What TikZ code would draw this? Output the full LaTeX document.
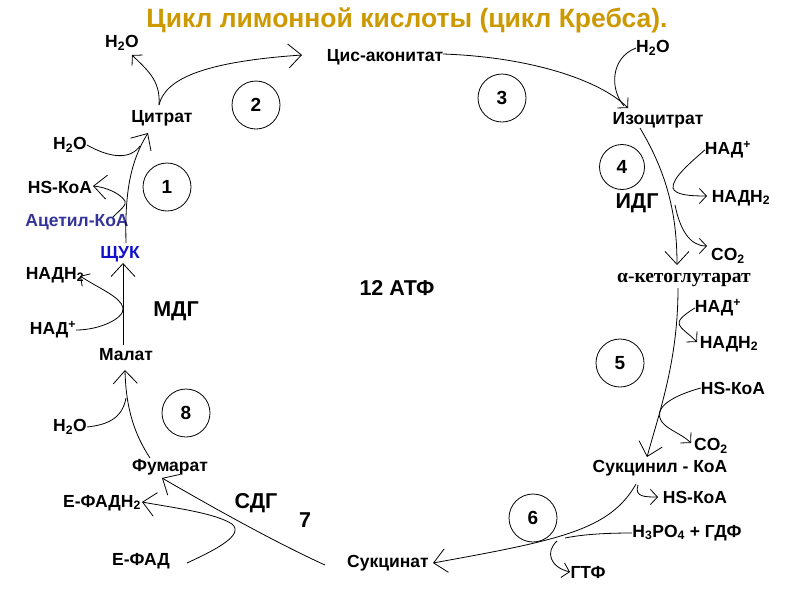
\documentclass[tikz,border=0pt]{standalone}
\usepackage{fontspec}
\setmainfont{Liberation Sans}
\newfontfamily\serifbold{Liberation Serif}
\usetikzlibrary{arrows.meta}
\definecolor{titlegold}{RGB}{204,153,0}
\definecolor{acetyl}{RGB}{51,51,153}
\definecolor{oaa}{RGB}{17,17,204}
\begin{document}
\begin{tikzpicture}[x=1pt,y=-1pt,
  lbl/.style={font=\bfseries\fontsize{17.5}{20}\selectfont, inner sep=0pt},
  big/.style={font=\bfseries\fontsize{21.5}{24}\selectfont, inner sep=0pt},
  num/.style={circle, draw, line width=0.8pt, minimum size=48pt, inner sep=0pt, font=\bfseries\fontsize{19}{22}\selectfont},
  conn/.style={line width=0.8pt},
  bigtip/.style={conn, -{Straight Barb[length=13pt,width=24pt]}},
  smalltip/.style={conn, -{Straight Barb[length=7pt,width=15pt]}},
]
\useasboundingbox (0,0) rectangle (800,600);

% title
\node[font=\bfseries\fontsize{26.5}{30}\selectfont, text=titlegold, inner sep=0pt] (title) at (407,20) {Цикл лимонной кислоты (цикл Кребса).};

% labels
\node[lbl] (h2o1) at (122,43) {H\textsubscript{2}O};
\node[lbl] (cisacon) at (385,57) {Цис-аконитат};
\node[lbl] (h2o3) at (653,48) {H\textsubscript{2}O};
\node[lbl] (citrate) at (162,118) {Цитрат};
\node[lbl] (isocit) at (658,120) {Изоцитрат};
\node[lbl] (h2o2) at (70,145) {H\textsubscript{2}O};
\node[lbl] (nad4) at (728,150) {НАД\textsuperscript{+}};
\node[lbl] (hskoa1) at (60,187) {HS-КоА};
\node[lbl] (nadh4) at (741,198) {НАДН\textsubscript{2}};
\node[big] (idg) at (637,203) {ИДГ};
\node[lbl, text=acetyl] (acetyl) at (77,222) {Ацетил-КоА};
\node[lbl, text=oaa] (oaa) at (120,254) {ЩУК};
\node[lbl] (co2a) at (728,256) {CO\textsubscript{2}};
\node[inner sep=0pt, font=\serifbold\bfseries\fontsize{19.5}{22}\selectfont] (akg) at (684,280) {α-кетоглутарат};
\node[lbl] (nadh8) at (55,275) {НАДН\textsubscript{2}};
\node[big] (atp) at (397,288) {12 АТФ};
\node[lbl] (nad5) at (718,308) {НАД\textsuperscript{+}};
\node[big] (mdg) at (176,311) {МДГ};
\node[lbl] (nad8) at (53,330) {НАД\textsuperscript{+}};
\node[lbl] (nadh5) at (729,344) {НАДН\textsubscript{2}};
\node[lbl] (malate) at (126,355) {Малат};
\node[lbl] (hskoa5) at (733,388) {HS-КоА};
\node[lbl] (h2o8) at (70,427) {H\textsubscript{2}O};
\node[lbl] (co2b) at (711,446) {CO\textsubscript{2}};
\node[lbl] (fumarate) at (170,467) {Фумарат};
\node[lbl] (succoa) at (660,468) {Сукцинил - КоА};
\node[lbl] (hskoa6) at (695,497) {HS-КоА};
\node[lbl] (fadh) at (102,503) {Е-ФАДН\textsubscript{2}};
\node[big] (sdg) at (256,503) {СДГ};
\node[big] (seven) at (305,520) {7};
\node[lbl] (h3po4) at (687,533) {H\textsubscript{3}PO\textsubscript{4} + ГДФ};
\node[lbl] (fad) at (141,561) {Е-ФАД};
\node[lbl] (succ) at (388,563) {Сукцинат};
\node[lbl] (gtp) at (588,572) {ГТФ};

% numbered circles
\node[num] (c1) at (167,187) {1};
\node[num] (c2) at (256,105) {2};
\node[num] (c3) at (502,98) {3};
\node[num, minimum size=45pt] (c4) at (622,167) {4};
\node[num] (c5) at (620,363) {5};
\node[num] (c6) at (533,518) {6};
\node[num] (c8) at (186,413) {8};

% key points
\coordinate (oaaTop) at (126,243);
\coordinate (citTip) at (148,133);
\coordinate (citTop) at (159,105);
\coordinate (h2o1Tip) at (132,55);
\coordinate (cisTip) at (302,55);
\coordinate (cisEnd) at (443,54);
\coordinate (isoTip) at (628,108);
\coordinate (isoBot) at (640,128);
\coordinate (akgTip) at (677,265);
\coordinate (akgBot) at (678,288);
\coordinate (scoaTip) at (647,457);
\coordinate (scoaBot) at (636,484);
\coordinate (succTip) at (433,563);
\coordinate (succLeft) at (325,565);
\coordinate (fumTip) at (162,478);
\coordinate (fumTop) at (150,458);
\coordinate (malTip) at (125,370);
\coordinate (malTop) at (123,345);
\coordinate (oaaTip) at (123,263);
\coordinate (nadh4Tip) at (707,196);
\coordinate (co2aTip) at (707,246);
\coordinate (nadh5Tip) at (697,342);
\coordinate (co2bTip) at (691,443);
\coordinate (hskoa6Tip) at (658,497);
\coordinate (gtpTip) at (570,572);
\coordinate (nadh8Tip) at (80,276);
\coordinate (fadhTip) at (142,502);
\coordinate (hskoa1Tip) at (93,186);

% main cycle
\draw[bigtip] (oaaTop) .. controls (125,200) and (128,165) .. (citTip);
\draw[bigtip] (citTop) .. controls (165,80) and (200,62) .. (cisTip);
\draw[smalltip] (cisEnd) .. controls (530,57) and (600,80) .. (isoTip);
\draw[bigtip] (isoBot) .. controls (665,170) and (677,210) .. (akgTip);
\draw[bigtip] (akgBot) .. controls (678,360) and (660,410) .. (scoaTip);
\draw[bigtip] (scoaBot) .. controls (610,530) and (560,540) .. (succTip);
\draw[bigtip] (succLeft) .. controls (270,540) and (200,500) .. (fumTip);
\draw[bigtip] (fumTop) .. controls (135,435) and (126,410) .. (malTip);
\draw[bigtip] (malTop) -- (oaaTip);

% side reactions
\draw[conn] (h2o2.east) .. controls (110,158) and (130,160) .. (140,146);
\draw[bigtip] (113,217) .. controls (120,210) and (127,205) .. (125,201) .. controls (120,193) and (105,187) .. (hskoa1Tip);
\draw[smalltip] (citTop) .. controls (161,80) and (146,69) .. (h2o1Tip);
\draw[conn] (h2o3.west) .. controls (610,58) and (610,90) .. (624,106);
\draw[smalltip] (nad4.west) .. controls (690,163) and (672,178) .. (673,188) .. controls (675,195) and (690,196) .. (nadh4Tip);
\draw[smalltip] (675,205) .. controls (680,230) and (690,246) .. (co2aTip);
\draw[smalltip] (nad5.west) .. controls (668,325) and (680,325) .. (nadh5Tip);
\draw[smalltip] (hskoa5.west) .. controls (672,396) and (652,408) .. (662,422) .. controls (668,430) and (682,434) .. (co2bTip);
\draw[smalltip] (638,485) .. controls (634,497) and (645,497) .. (hskoa6Tip);
\draw[conn] (h3po4.west) .. controls (600,533) and (580,535) .. (565,538);
\draw[smalltip] (557,541) .. controls (545,552) and (550,567) .. (gtpTip);
\draw[bigtip] (187,563) .. controls (215,550) and (245,535) .. (232,524) .. controls (215,513) and (175,508) .. (fadhTip);
\draw[conn] (h2o8.east) .. controls (105,425) and (122,420) .. (126,398);
\draw[smalltip] (nad8.east) .. controls (100,330) and (125,318) .. (123,308) .. controls (121,297) and (100,289) .. (nadh8Tip);
\end{tikzpicture}
\end{document}
